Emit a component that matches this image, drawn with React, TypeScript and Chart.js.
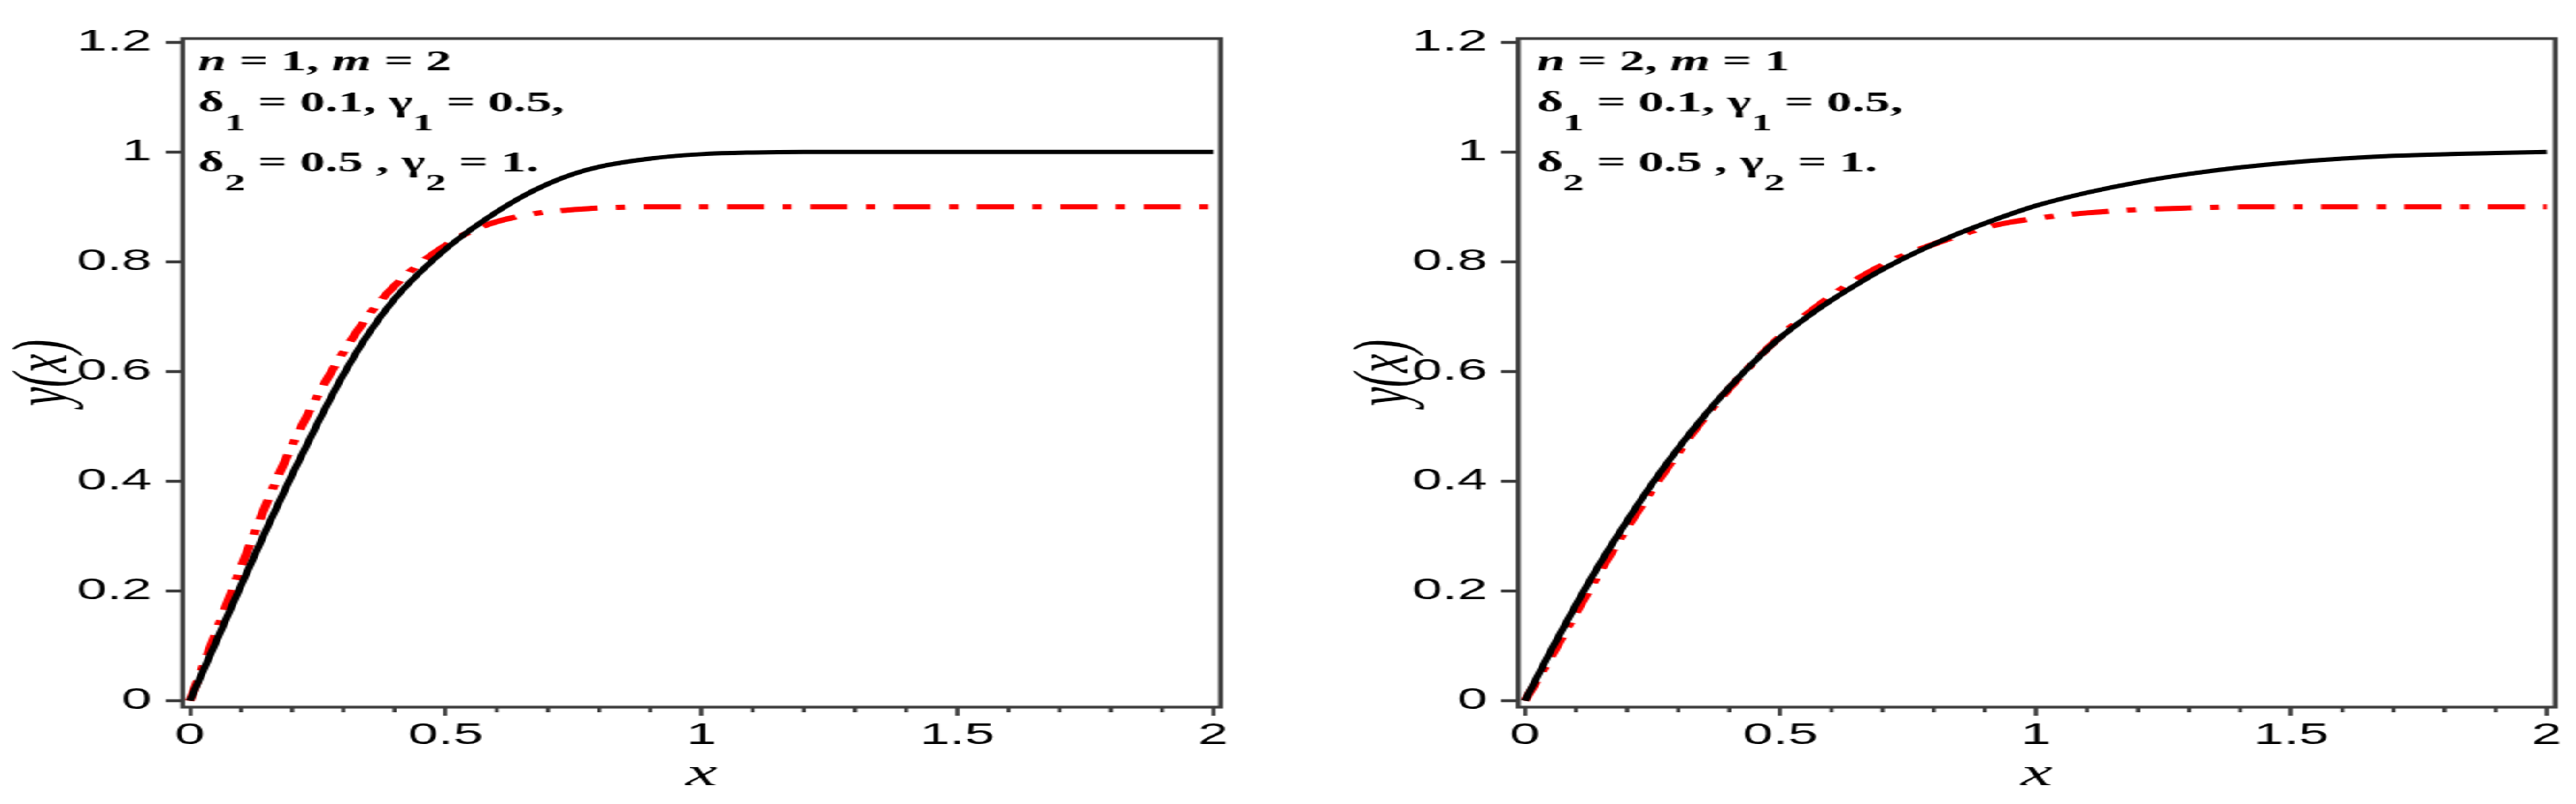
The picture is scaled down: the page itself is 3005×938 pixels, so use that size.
import { useEffect, useRef } from 'react';
import { Chart, registerables } from 'chart.js';

Chart.register(...registerables);

// ---------- data ----------
const X_TICKS = [0, 0.1, 0.2, 0.3, 0.4, 0.5, 0.6, 0.7, 0.8, 0.9, 1, 1.1, 1.2, 1.3, 1.4, 1.5, 1.6, 1.7, 1.8, 1.9, 2];
const X_MAJOR = [0, 0.5, 1, 1.5, 2];
const X_TICK_LABELS = ['0', '0.5', '1', '1.5', '2'];
const Y_TICKS = [0, 0.2, 0.4, 0.6, 0.8, 1, 1.2];
const Y_TICK_LABELS = ['0', '0.2', '0.4', '0.6', '0.8', '1', '1.2'];

// left panel: n = 1, m = 2
const L_BLACK_X = [0, 0.05, 0.1, 0.15, 0.2, 0.25, 0.3, 0.35, 0.4, 0.45, 0.5, 0.55, 0.6, 0.65, 0.7, 0.75, 0.8, 0.9, 1.0, 1.1, 1.2, 1.5, 2.0];
const L_BLACK_Y = [0, 0.105, 0.21, 0.313, 0.412, 0.506, 0.594, 0.67, 0.732, 0.781, 0.823, 0.859, 0.891, 0.919, 0.942, 0.96, 0.973, 0.988, 0.996, 0.999, 1.0, 1.0, 1.0];
const L_RED_X = [0, 0.05, 0.1, 0.15, 0.2, 0.25, 0.3, 0.35, 0.4, 0.45, 0.5, 0.55, 0.6, 0.65, 0.7, 0.75, 0.8, 0.9, 1.0, 1.5, 2.0];
const L_RED_Y = [0, 0.122, 0.243, 0.36, 0.465, 0.556, 0.635, 0.703, 0.756, 0.797, 0.83, 0.856, 0.873, 0.884, 0.891, 0.895, 0.898, 0.9, 0.9, 0.9, 0.9];

// right panel: n = 2, m = 1
const R_BLACK_X = [0, 0.05, 0.1, 0.15, 0.2, 0.25, 0.3, 0.35, 0.4, 0.45, 0.5, 0.55, 0.6, 0.65, 0.7, 0.75, 0.8, 0.85, 0.9, 1.0, 1.1, 1.2, 1.3, 1.4, 1.5, 1.6, 1.7, 1.8, 1.9, 2.0];
const R_BLACK_Y = [0, 0.09, 0.175, 0.255, 0.328, 0.397, 0.46, 0.518, 0.571, 0.619, 0.662, 0.698, 0.73, 0.759, 0.786, 0.81, 0.832, 0.852, 0.87, 0.902, 0.926, 0.945, 0.96, 0.972, 0.981, 0.988, 0.993, 0.996, 0.998, 1.0];
const R_RED_X = [0, 0.05, 0.1, 0.15, 0.2, 0.25, 0.3, 0.35, 0.4, 0.45, 0.5, 0.55, 0.6, 0.65, 0.7, 0.75, 0.8, 0.85, 0.9, 0.95, 1.0, 1.1, 1.2, 1.3, 1.4, 2.0];
const R_RED_Y = [0, 0.078, 0.16, 0.24, 0.315, 0.386, 0.452, 0.514, 0.569, 0.619, 0.664, 0.703, 0.738, 0.768, 0.794, 0.815, 0.832, 0.848, 0.862, 0.872, 0.879, 0.889, 0.895, 0.898, 0.9, 0.9];

// annotation text (style: bi = bold italic, b = bold, s = subscript)
const NOTE_LEFT: [string, string][][] = [
  [['bi', 'n'], ['b', ' = 1, '], ['bi', 'm'], ['b', ' = 2']],
  [['b', 'δ'], ['s', '1'], ['b', ' = 0.1, '], ['b', 'γ'], ['s', '1'], ['b', ' = 0.5,']],
  [['b', 'δ'], ['s', '2'], ['b', ' = 0.5 , '], ['b', 'γ'], ['s', '2'], ['b', ' = 1.']],
];
const NOTE_RIGHT: [string, string][][] = [
  [['bi', 'n'], ['b', ' = 2, '], ['bi', 'm'], ['b', ' = 1']],
  [['b', 'δ'], ['s', '1'], ['b', ' = 0.1, '], ['b', 'γ'], ['s', '1'], ['b', ' = 0.5,']],
  [['b', 'δ'], ['s', '2'], ['b', ' = 0.5 , '], ['b', 'γ'], ['s', '2'], ['b', ' = 1.']],
];

// ---------- layout ----------
const S = 1.8; // horizontal stretch of the whole figure
const H = 938;
const LEFT_W = 834;
const RIGHT_W = 835;
const AXIS_COLOR = '#3c3c3c';
const NOTE_BASELINES = [82, 130, 200];

type Panel = {
  width: number;
  padLeft: number;
  yAxisW: number;
  padRight: number;
  xMin: number;
  xMax: number;
  noteOffset: number;
  note: [string, string][][];
  blackX: number[];
  blackY: number[];
  redX: number[];
  redY: number[];
};

const isMajor = (v: number) => X_MAJOR.some((m) => Math.abs(m - v) < 1e-9);

function makePlugin(p: Panel) {
  return {
    id: 'panelDeco',
    afterDraw(chart: any) {
      const { ctx, chartArea: a, scales } = chart;
      ctx.save();
      // minor x ticks
      ctx.strokeStyle = AXIS_COLOR;
      ctx.lineWidth = 2.6;
      X_TICKS.forEach((v) => {
        if (isMajor(v)) return;
        const px = scales.x.getPixelForValue(v);
        ctx.beginPath();
        ctx.moveTo(px, a.bottom);
        ctx.lineTo(px, a.bottom + 6);
        ctx.stroke();
      });
      // frame
      ctx.lineWidth = 3.2;
      ctx.strokeRect(a.left, a.top, a.right - a.left, a.bottom - a.top);
      // annotation
      ctx.fillStyle = '#000';
      ctx.textBaseline = 'alphabetic';
      ctx.textAlign = 'left';
      p.note.forEach((line, li) => {
        let x = a.left + p.noteOffset;
        const base = NOTE_BASELINES[li];
        line.forEach(([st, txt]) => {
          let y = base;
          if (st === 'bi') ctx.font = 'italic bold 33px "Liberation Serif"';
          else if (st === 's') {
            ctx.font = 'bold 27px "Liberation Serif"';
            y = base + 22;
          } else ctx.font = 'bold 33px "Liberation Serif"';
          ctx.fillText(txt, x, y);
          x += ctx.measureText(txt).width;
        });
      });
      ctx.restore();
    },
  };
}

function buildChart(canvas: HTMLCanvasElement, p: Panel) {
  return new Chart(canvas, {
    type: 'line',
    data: {
      datasets: [
        {
          data: p.blackX.map((x, i) => ({ x, y: p.blackY[i] })),
          borderColor: '#000000',
          borderWidth: 5,
          pointRadius: 0,
          cubicInterpolationMode: 'monotone',
          fill: false,
        },
        {
          data: p.redX.map((x, i) => ({ x, y: p.redY[i] })),
          borderColor: '#ff0000',
          borderWidth: 6,
          borderDash: [24, 12, 6, 12],
          pointRadius: 0,
          cubicInterpolationMode: 'monotone',
          fill: false,
        },
      ],
    },
    options: {
      responsive: false,
      maintainAspectRatio: false,
      animation: false,
      layout: { padding: { left: p.padLeft, right: p.padRight, top: 45, bottom: 0 } },
      plugins: { legend: { display: false }, tooltip: { enabled: false }, title: { display: false } },
      scales: {
        x: {
          type: 'linear',
          min: p.xMin,
          max: p.xMax,
          afterBuildTicks: (scale: any) => {
            scale.ticks = X_TICKS.map((v) => ({ value: v }));
          },
          afterFit: (scale: any) => {
            scale.height = H - 825;
          },
          border: { display: false },
          grid: {
            display: true,
            drawOnChartArea: false,
            drawTicks: true,
            tickLength: 10,
            tickWidth: 2.6,
            tickColor: (c: any) => (isMajor(c.tick.value) ? AXIS_COLOR : 'rgba(0,0,0,0)'),
          },
          ticks: {
            autoSkip: false,
            maxRotation: 0,
            minRotation: 0,
            padding: 2,
            color: '#000',
            font: { family: 'Liberation Sans', size: 35 },
            callback: (v: any) => {
              const i = X_MAJOR.findIndex((m) => Math.abs(m - Number(v)) < 1e-9);
              return i >= 0 ? X_TICK_LABELS[i] : '';
            },
          },
          title: {
            display: true,
            text: 'x',
            color: '#000',
            font: { family: 'Liberation Serif', style: 'italic', size: 46 },
            padding: 6,
          },
        },
        y: {
          type: 'linear',
          min: -0.0117,
          max: 1.2067,
          afterBuildTicks: (scale: any) => {
            scale.ticks = Y_TICKS.map((v) => ({ value: v }));
          },
          afterFit: (scale: any) => {
            scale.width = p.yAxisW;
          },
          border: { display: false },
          grid: {
            display: true,
            drawOnChartArea: false,
            drawTicks: true,
            tickLength: 11,
            tickWidth: 3.5,
            tickColor: AXIS_COLOR,
          },
          ticks: {
            autoSkip: false,
            padding: 9,
            color: '#000',
            font: { family: 'Liberation Sans', size: 35 },
            callback: (v: any) => {
              const i = Y_TICKS.findIndex((m) => Math.abs(m - Number(v)) < 1e-9);
              return i >= 0 ? Y_TICK_LABELS[i] : '';
            },
          },
          title: {
            display: true,
            text: 'y(x)',
            color: '#000',
            font: { family: 'Liberation Serif', style: 'italic', size: 50 },
            padding: 0,
          },
        },
      },
    },
    plugins: [makePlugin(p)],
  } as any);
}

const LEFT_PANEL: Panel = {
  width: LEFT_W,
  padLeft: 0,
  yAxisW: 213 / S,
  padRight: LEFT_W - 1424 / S,
  xMin: -0.0142,
  xMax: 2.0146,
  noteOffset: 10,
  note: NOTE_LEFT,
  blackX: L_BLACK_X,
  blackY: L_BLACK_Y,
  redX: L_RED_X,
  redY: L_RED_Y,
};

const RIGHT_PANEL: Panel = {
  width: RIGHT_W,
  padLeft: 35,
  yAxisW: 1771 / S - LEFT_W - 35,
  padRight: RIGHT_W - (2981 / S - LEFT_W),
  xMin: -0.0134,
  xMax: 2.0168,
  noteOffset: 12,
  note: NOTE_RIGHT,
  blackX: R_BLACK_X,
  blackY: R_BLACK_Y,
  redX: R_RED_X,
  redY: R_RED_Y,
};

export default function App() {
  const leftRef = useRef<HTMLCanvasElement | null>(null);
  const rightRef = useRef<HTMLCanvasElement | null>(null);

  useEffect(() => {
    const charts: Chart[] = [];
    if (leftRef.current) charts.push(buildChart(leftRef.current, LEFT_PANEL));
    if (rightRef.current) charts.push(buildChart(rightRef.current, RIGHT_PANEL));
    return () => charts.forEach((c) => c.destroy());
  }, []);

  return (
    <div
      style={{
        position: 'fixed',
        left: 0,
        top: 0,
        width: LEFT_W + RIGHT_W,
        height: H,
        display: 'flex',
        background: '#ffffff',
        transform: `scaleX(${S})`,
        transformOrigin: '0 0',
      }}
    >
      <canvas ref={leftRef} width={LEFT_W} height={H} style={{ display: 'block' }} />
      <canvas ref={rightRef} width={RIGHT_W} height={H} style={{ display: 'block' }} />
    </div>
  );
}
